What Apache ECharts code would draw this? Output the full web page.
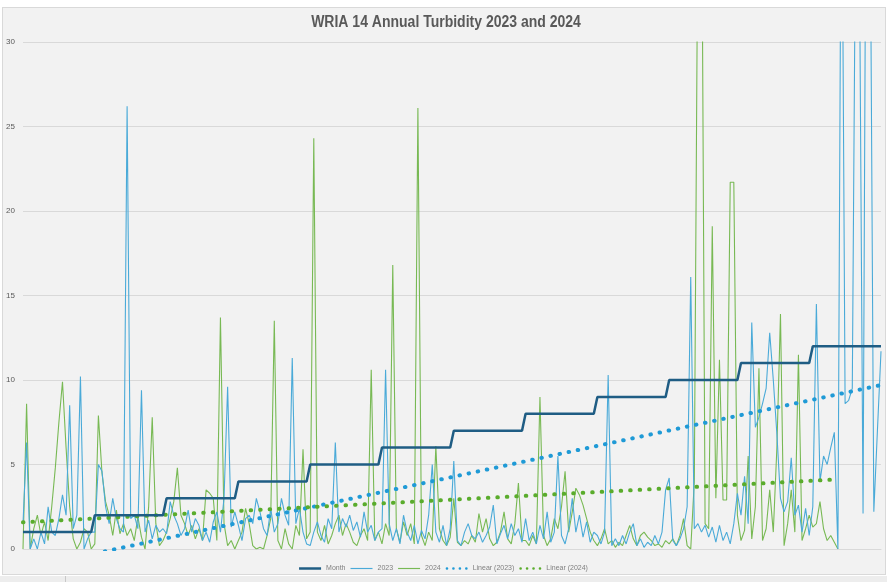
<!DOCTYPE html>
<html>
<head>
<meta charset="utf-8">
<script src="https://cdn.jsdelivr.net/npm/echarts@6/dist/echarts.min.js"></script>
<style>
  html, body { margin: 0; padding: 0; background: #ffffff; width: 887px; height: 582px; overflow: hidden; }
  #panel { position: absolute; left: 2px; top: 7px; width: 882px; height: 566px; background: #f2f2f2; border: 1px solid #d9d9d9; }
  #strip { position: absolute; left: 0; top: 576px; width: 887px; height: 6px; background: #ededed; }
  #tick { position: absolute; left: 65px; top: 576px; width: 1px; height: 6px; background: #c8c8c8; }
  #chart { position: absolute; left: 0; top: 0; width: 887px; height: 582px; }
</style>
</head>
<body>
<div id="panel"></div>
<div id="strip"></div>
<div id="tick"></div>
<div id="chart"></div>
<script>
// Month index of each sample (20 samples per month)
const month = [
  1,1,1,1,1,1,1,1,1,1,1,1,1,1,1,1,1,1,1,1,
  2,2,2,2,2,2,2,2,2,2,2,2,2,2,2,2,2,2,2,2,
  3,3,3,3,3,3,3,3,3,3,3,3,3,3,3,3,3,3,3,3,
  4,4,4,4,4,4,4,4,4,4,4,4,4,4,4,4,4,4,4,4,
  5,5,5,5,5,5,5,5,5,5,5,5,5,5,5,5,5,5,5,5,
  6,6,6,6,6,6,6,6,6,6,6,6,6,6,6,6,6,6,6,6,
  7,7,7,7,7,7,7,7,7,7,7,7,7,7,7,7,7,7,7,7,
  8,8,8,8,8,8,8,8,8,8,8,8,8,8,8,8,8,8,8,8,
  9,9,9,9,9,9,9,9,9,9,9,9,9,9,9,9,9,9,9,9,
  10,10,10,10,10,10,10,10,10,10,10,10,10,10,10,10,10,10,10,10,
  11,11,11,11,11,11,11,11,11,11,11,11,11,11,11,11,11,11,11,11,
  12,12,12,12,12,12,12,12,12,12,12,12,12,12,12,12,12,12,12,12
];

// Turbidity 2023
const turb2023 = [
  1.5,6.3,0,0.6,0,1.0,0.3,2.5,1.0,0.8,1.8,3.2,2.0,8.5,1.2,2.0,10.2,0,0.6,1.0,
  1.0,5.0,4.6,2.5,1.5,3.0,1.8,1.2,1.0,26.2,1.8,2.0,1.2,9.4,1.0,1.7,0.6,1.4,1.0,1.2,
  0.9,2.8,2.0,1.5,0.8,1.2,2.3,1.0,1.8,1.4,0.5,1.0,0.4,1.6,2.2,1.0,3.0,9.6,1.3,2.2,
  1.4,0.5,1.8,2.0,1.5,3.0,2.2,1.2,0.8,2.4,1.0,1.5,3.0,2.0,1.4,11.3,1.5,2.4,1.0,0.3,
  0.2,1.0,1.6,0.8,0.4,1.8,1.2,6.3,1.0,1.8,1.3,2.0,1.1,1.6,0.7,2.2,1.0,1.4,0.5,1.0,
  1.2,10.6,1.5,0.5,1.2,0.3,2.0,1.0,0.5,1.4,0.3,1.1,0.6,2.0,5.0,1.0,0.4,1.4,0.2,1.2,
  5.2,0.5,0.2,1.0,1.5,0.8,0.6,1.0,0.4,0.8,1.3,2.6,0.3,0.9,1.4,0.6,1.5,0.8,1.2,0.4,
  1.8,0.5,1.0,0.3,1.4,0.6,2.2,0.4,1.0,5.5,0.8,0.3,1.2,3.0,1.0,2.0,0.7,1.6,0.4,1.0,
  0.8,0.3,1.0,10.3,0.2,0.6,0.2,0.8,0.3,1.0,1.5,0.2,0.6,0.1,0.4,0.2,0.8,0.3,1.0,3.5,
  4.2,0.5,0.2,0.6,1.2,2.5,16.1,1.2,1.5,1.0,1.4,0.7,1.3,0.4,1.4,0.5,1.0,0.3,1.5,3.3,
  2.0,4.3,1.5,13.4,7.2,7.8,8.6,9.5,12.8,10.0,6.8,3.0,2.2,2.8,5.4,2.0,2.6,1.0,2.4,0.8,
  2.5,14.5,4.0,5.5,5.0,6.0,6.9,0,45,8.6,8.8,9.5,40,35,2.1,50,38,2.2,7.0,11.7
];

// Turbidity 2024 (ends mid-December)
const turb2024 = [
  0,8.6,0,1.2,2.0,0.8,1.6,0.5,2.5,4.8,7.5,9.9,6.0,2.5,0.6,0,0.4,1.2,1.0,0,
  0.3,7.9,4.5,2.8,2.0,0.8,2.3,0.9,1.5,0.8,1.2,0.5,1.9,0.7,0,2.5,7.8,1.5,0.2,0.5,
  1.0,1.8,2.8,4.8,2.0,1.5,0.8,1.4,0.6,1.2,0.5,3.5,3.3,3.0,0.5,13.7,1.5,0.2,0.5,0,
  0.5,1.0,2.4,1.5,0.2,0,0.1,0,0.8,1.8,13.5,0.5,0,1.2,0.3,0,1.4,0.8,5.9,0.6,
  1.0,24.3,1.0,0.5,1.4,0.3,0.8,1.5,2.0,0.8,1.5,1.0,0.4,0.2,0.8,1.2,0.5,10.6,0.5,1.0,
  0.3,1.5,0.8,16.8,1.2,0.4,1.6,0.8,1.5,0.3,26.1,0.8,0.2,1.0,0.5,6.1,1.2,0.5,0.2,0.7,
  3.0,0.4,0.2,0.5,0.3,0.8,0.4,2.1,1.0,1.8,0.6,0.2,0.4,1.0,2.2,0.6,0.3,1.5,3.9,0.5,
  0.5,0.2,0.8,0.3,9.0,0.8,0.2,0.6,1.8,1.2,2.5,4.6,1.0,2.2,3.6,3.2,2.6,1.8,1.0,0.5,
  0.2,0.6,1.2,0.3,0.5,0.1,0.4,0.2,0.8,1.4,0.6,0.2,0.8,1.0,0.7,0.5,0.2,0.3,0.1,0.5,
  0.3,0.6,0.2,0.8,1.8,0.2,0,4.0,38,42,1.5,1.2,19.1,3.0,11.2,2.9,2.9,21.7,21.7,2.0,
  0.5,1.1,5.5,0.6,2.5,10.7,0.5,1.2,3.5,1.0,6.0,13.9,0.2,1.5,3.5,1.0,11.5,0.5,1.2,2.0,
  1.3,1.5,2.8,1.2,0.5,0.8,0.4,0
];

// Linear trend lines: [start value, end value] at the first and last sample of each year
const trend2023 = [-1.18, 9.7];
const trend2024 = [1.58, 4.12];

// Y-axis ticks
const yTicks = [0, 5, 10, 15, 20, 25, 30];

const titleText = 'WRIA 14 Annual Turbidity 2023 and 2024';
const seriesNames = ['Month', '2023', '2024', 'Linear (2023)', 'Linear (2024)'];

const samples = month.map((m, i) => String(i + 1));

const FONT = '"Liberation Sans", Arial, sans-serif';
const C_MONTH = '#1f5d84';
const C_2023 = '#4aaad8';
const C_2024 = '#78b954';
const C_L2023 = '#1f9ad6';
const C_L2024 = '#5aac2c';

// legend icon shapes
const ICON_THICK = 'path://M0,0L23,0L23,2.6L0,2.6Z';
const ICON_THIN = 'path://M0,0L23,0L23,1.2L0,1.2Z';
const ICON_DOTS = 'path://M0,1.3a1.3,1.3 0 1,0 2.6,0a1.3,1.3 0 1,0 -2.6,0Z' +
  'M6.4,1.3a1.3,1.3 0 1,0 2.6,0a1.3,1.3 0 1,0 -2.6,0Z' +
  'M12.8,1.3a1.3,1.3 0 1,0 2.6,0a1.3,1.3 0 1,0 -2.6,0Z' +
  'M19.2,1.3a1.3,1.3 0 1,0 2.6,0a1.3,1.3 0 1,0 -2.6,0Z';

const chart = echarts.init(document.getElementById('chart'), null, { renderer: 'canvas' });
chart.setOption({
  backgroundColor: 'transparent',
  animation: false,
  graphic: [{
    type: 'text',
    x: 446,
    y: 23,
    scaleX: 0.875,
    style: {
      text: titleText,
      font: 'bold 16px "Liberation Sans", Arial, sans-serif',
      fill: '#595959',
      align: 'center',
      verticalAlign: 'middle'
    },
    z: 10
  }],
  legend: {
    data: [
      { name: seriesNames[0], icon: ICON_THICK },
      { name: seriesNames[1], icon: ICON_THIN },
      { name: seriesNames[2], icon: ICON_THIN },
      { name: seriesNames[3], icon: ICON_DOTS },
      { name: seriesNames[4], icon: ICON_DOTS }
    ],
    left: 'center',
    top: 560,
    itemWidth: 22,
    itemHeight: 7,
    itemGap: 5,
    symbolKeepAspect: true,
    textStyle: { fontFamily: FONT, fontSize: 7, color: '#7f7f7f' }
  },
  grid: { left: 23, right: 6, top: 42, bottom: 33, containLabel: false },
  xAxis: {
    type: 'category',
    data: samples,
    boundaryGap: false,
    axisLine: { show: true, lineStyle: { color: '#d9d9d9', width: 1 } },
    axisTick: { show: false },
    axisLabel: { show: false },
    splitLine: { show: false }
  },
  yAxis: {
    type: 'value',
    min: yTicks[0],
    max: yTicks[yTicks.length - 1],
    interval: yTicks[1] - yTicks[0],
    axisLine: { show: false },
    axisTick: { show: false },
    axisLabel: { fontFamily: FONT, fontSize: 8, color: '#595959', margin: 8 },
    splitLine: { show: true, lineStyle: { color: '#d9d9d9', width: 1 } }
  },
  series: [
    {
      name: seriesNames[0], type: 'line', data: month, symbol: 'none', z: 5,
      lineStyle: { color: C_MONTH, width: 2.5 }, itemStyle: { color: C_MONTH }
    },
    {
      name: seriesNames[1], type: 'line', data: turb2023, symbol: 'none', z: 3,
      lineStyle: { color: C_2023, width: 1.1 }, itemStyle: { color: C_2023 }
    },
    {
      name: seriesNames[2], type: 'line', data: turb2024, symbol: 'none', z: 2,
      lineStyle: { color: C_2024, width: 1.1 }, itemStyle: { color: C_2024 }
    },
    {
      name: seriesNames[3], type: 'line', symbol: 'none', z: 4,
      data: [[0, trend2023[0]], [turb2023.length - 1, trend2023[1]]],
      lineStyle: { color: C_L2023, width: 4, type: [0.5, 8.8], cap: 'round' },
      itemStyle: { color: C_L2023 }
    },
    {
      name: seriesNames[4], type: 'line', symbol: 'none', z: 4,
      data: [[0, trend2024[0]], [turb2024.length - 1, trend2024[1]]],
      lineStyle: { color: C_L2024, width: 4, type: [0.5, 9], cap: 'round' },
      itemStyle: { color: C_L2024 }
    }
  ]
});
</script>
</body>
</html>
